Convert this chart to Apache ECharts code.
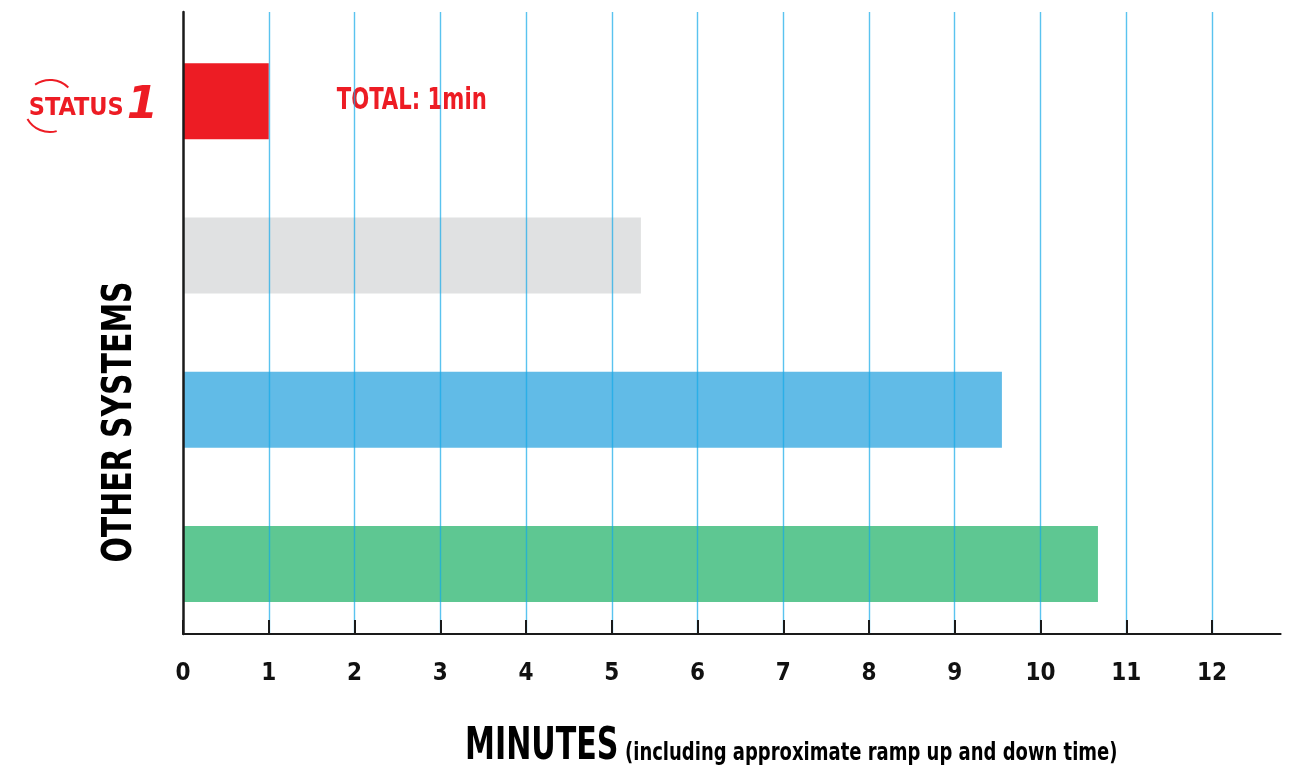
<!DOCTYPE html>
<html>
<head>
<meta charset="utf-8">
<script src="https://cdn.jsdelivr.net/npm/echarts@6/dist/echarts.min.js"></script>
<style>
html,body{margin:0;padding:0;background:#fff;}
#main{width:1290px;height:769px;}
</style>
</head>
<body>
<div id="main"></div>
<script>
// ---- data ----
var categories = ['STATUS1', 'Other system A', 'Other system B', 'Other system C'];
var minutes = [1, 5.34, 9.55, 10.67];
var xTicks = [0, 1, 2, 3, 4, 5, 6, 7, 8, 9, 10, 11, 12];
var xMax = 12.8;
var totalLabel = 'TOTAL: ';
var yTitle = 'OTHER SYSTEMS';
var xTitleMain = 'MINUTES';
var xTitleSub = '(including approximate ramp up and down time)';

// ---- styles ----
var barColors = ['#ed1c24', '#e0e1e2', '#61bbe7', '#5ec792'];
var RED = '#ed1c24';
var NARROW = "'Liberation Sans Narrow', 'DejaVu Sans Condensed', 'Roboto', sans-serif";

var chart = echarts.init(document.getElementById('main'));

var barData = minutes.map(function (v, i) {
  return { value: v, itemStyle: { color: barColors[i] } };
});

var option = {
  animation: false,
  backgroundColor: '#fff',
  grid: [
    { left: 183, width: 1097.6, top: 24, bottom: 128 },
    { left: 183, width: 1097.6, top: 12, bottom: 135 }
  ],
  xAxis: [
    {
      gridIndex: 0, type: 'value', min: 0, max: xMax,
      axisLine: { show: false }, axisTick: { show: false },
      axisLabel: { show: false }, splitLine: { show: false }
    },
    {
      gridIndex: 1, type: 'value', min: 0, max: xMax, interval: 1, z: 10,
      axisLine: { show: true, lineStyle: { color: '#1a1a1a', width: 2 } },
      axisTick: { show: true, inside: true, length: 14, customValues: xTicks,
        lineStyle: { color: '#1a1a1a', width: 2 } },
      axisLabel: { show: true, customValues: xTicks, margin: 28,
        fontFamily: NARROW, fontWeight: 'bold', fontSize: 24, color: '#111' },
      splitLine: { show: true, showMinLine: false,
        lineStyle: { color: 'rgba(20,170,232,0.7)', width: 1.4 } }
    }
  ],
  yAxis: [
    {
      gridIndex: 0, type: 'category', data: categories, inverse: true,
      axisLine: { show: false }, axisTick: { show: false }, splitLine: { show: false },
      axisLabel: {
        show: true, margin: 25, padding: [10, 0, 0, 0],
        formatter: function (v, i) { return i === 0 ? '{s|STATUS}{one|1}' : ''; },
        rich: {
          s: { color: RED, fontFamily: "'DejaVu Sans Condensed', 'Open Sans', sans-serif", fontWeight: 'bold', fontSize: 25, verticalAlign: 'bottom', padding: [0, 3, 8, 0] },
          one: { color: RED, fontFamily: "'DejaVu Sans', sans-serif", fontWeight: 'bold', fontStyle: 'italic', fontSize: 45, verticalAlign: 'bottom' }
        }
      }
    },
    {
      gridIndex: 1, type: 'value', min: 0, max: 1, z: 10,
      axisLine: { show: true, lineStyle: { color: '#1a1a1a', width: 2.5 } },
      axisTick: { show: false }, axisLabel: { show: false }, splitLine: { show: false }
    }
  ],
  series: [
    {
      type: 'bar', xAxisIndex: 0, yAxisIndex: 0,
      data: barData, barWidth: 76, z: 2
    }
  ]
};

chart.setOption(option);

// annotation placed from the data through the chart's own scales
var p = chart.convertToPixel({ gridIndex: 0 }, [minutes[0], 0]);

chart.setOption({
  graphic: [
    {
      type: 'text', x: p[0] + 68, y: p[1], scaleX: 0.76,
      style: { text: totalLabel + minutes[0] + 'min', fontFamily: NARROW, fontWeight: 'bold',
        fontSize: 31, fill: RED, align: 'left', verticalAlign: 'middle' }
    },
    {
      type: 'text', x: 121, y: 422, rotation: Math.PI / 2, scaleX: 0.83,
      style: { text: yTitle, fontFamily: NARROW, fontWeight: 'bold', fontSize: 40,
        fill: '#000', align: 'center', verticalAlign: 'middle' }
    },
    {
      type: 'text', x: 465, y: 726, scaleX: 0.76,
      style: { text: xTitleMain, fontFamily: NARROW, fontWeight: 'bold', fontSize: 44,
        fill: '#000', align: 'left', verticalAlign: 'top' }
    },
    {
      type: 'text', x: 625, y: 741, scaleX: 0.8,
      style: { text: xTitleSub, fontFamily: NARROW, fontWeight: 'bold', fontSize: 25,
        fill: '#000', align: 'left', verticalAlign: 'top' }
    },
    {
      type: 'arc', shape: { cx: 50, cy: 106, r: 26, startAngle: -2.18, endAngle: -0.79, clockwise: true },
      style: { stroke: RED, lineWidth: 2, fill: null }
    },
    {
      type: 'arc', shape: { cx: 50, cy: 106, r: 26, startAngle: 1.31, endAngle: 2.62, clockwise: true },
      style: { stroke: RED, lineWidth: 2, fill: null }
    }
  ]
});
</script>
</body>
</html>
